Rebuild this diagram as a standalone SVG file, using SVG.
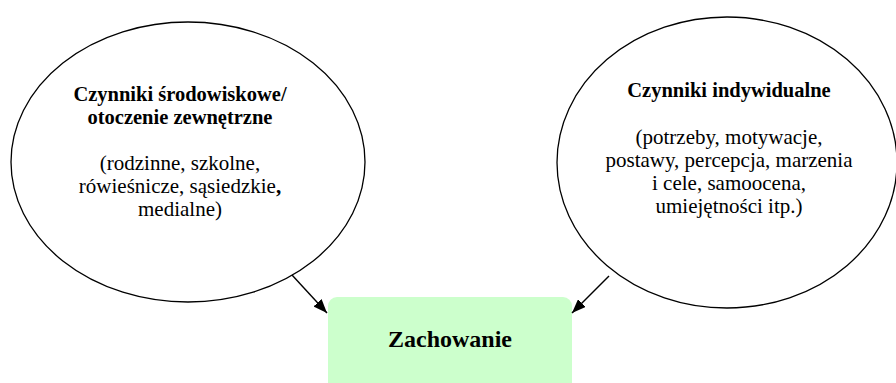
<svg xmlns="http://www.w3.org/2000/svg" width="896" height="383" viewBox="0 0 896 383">
  <style>
    .oval { fill: #ffffff; stroke: #000000; stroke-width: 1.3; }
    .box { fill: #ccffcc; stroke: none; }
    .title { font-family: "Liberation Serif", "Times New Roman", serif; font-weight: bold; font-size: 20.5px; fill: #000; text-anchor: middle; }
    .body { font-family: "Liberation Serif", "Times New Roman", serif; font-size: 21px; fill: #000; text-anchor: middle; }
    .main { font-family: "Liberation Serif", "Times New Roman", serif; font-weight: bold; font-size: 24px; fill: #000; text-anchor: middle; }
    .edge { stroke: #000; stroke-width: 1.4; fill: none; marker-end: url(#arrow); }
  </style>
  <defs>
    <marker id="arrow" viewBox="0 0 14 11" refX="14" refY="5.5" markerWidth="14" markerHeight="11" markerUnits="userSpaceOnUse" orient="auto">
      <path d="M0,0 L14,5.5 L0,11 Z" fill="#000"/>
    </marker>
  </defs>
  <rect width="896" height="383" fill="#ffffff"/>
  <g id="node-srodowiskowe">
    <ellipse class="oval" cx="188" cy="162" rx="177" ry="140"/>
    <text class="title" x="180" y="101">Czynniki środowiskowe/</text>
    <text class="title" x="180" y="124">otoczenie zewnętrzne</text>
    <text class="body" x="180" y="170">(rodzinne, szkolne,</text>
    <text class="body" x="180" y="193">rówieśnicze, sąsiedzkie<tspan font-weight="bold">,</tspan></text>
    <text class="body" x="180" y="216">medialne)</text>
  </g>
  <g id="node-indywidualne">
    <ellipse class="oval" cx="727" cy="162.5" rx="170" ry="145.5"/>
    <text class="title" x="729" y="97">Czynniki indywidualne</text>
    <text class="body" x="729" y="144">(potrzeby, motywacje,</text>
    <text class="body" x="729" y="167">postawy, percepcja, marzenia</text>
    <text class="body" x="729" y="190">i cele, samoocena,</text>
    <text class="body" x="729" y="213">umiejętności itp.)</text>
  </g>
  <g id="node-zachowanie">
    <rect class="box" x="328" y="297" width="244" height="100" rx="9" ry="9"/>
    <text class="main" x="450" y="347">Zachowanie</text>
  </g>
  <g id="connectors">
    <line class="edge" x1="292" y1="275" x2="327" y2="313"/>
    <line class="edge" x1="609" y1="276" x2="572" y2="313"/>
  </g>
</svg>
